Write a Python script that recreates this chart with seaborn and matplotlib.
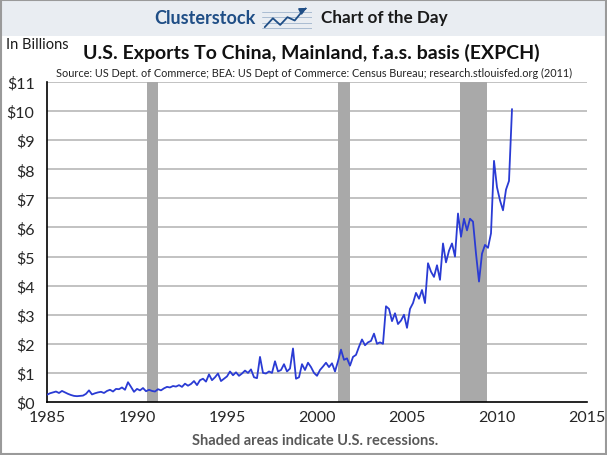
import pandas as pd
import seaborn as sns
import matplotlib.pyplot as plt
from matplotlib.patches import Rectangle

# ----------------------------- data (bi-monthly, $ billions) -----------------------------

exports = [
    0.25, 0.30, 0.33, 0.36, 0.31, 0.38,   # 1985
    0.33, 0.28, 0.24, 0.21, 0.20, 0.21,   # 1986
    0.22, 0.28, 0.40, 0.26, 0.30, 0.33,   # 1987
    0.35, 0.31, 0.38, 0.42, 0.36, 0.45,   # 1988
    0.44, 0.50, 0.42, 0.68, 0.52, 0.35,   # 1989
    0.45, 0.40, 0.48, 0.37, 0.42, 0.38,   # 1990
    0.36, 0.44, 0.40, 0.47, 0.52, 0.50,   # 1991
    0.55, 0.53, 0.58, 0.52, 0.63, 0.56,   # 1992
    0.62, 0.72, 0.58, 0.75, 0.80, 0.70,   # 1993
    0.95, 0.75, 0.85, 0.98, 0.72, 0.80,   # 1994
    0.88, 1.05, 0.92, 1.02, 0.90, 0.98,   # 1995
    1.08, 1.00, 1.12, 0.85, 0.82, 1.55,   # 1996
    1.00, 0.98, 1.05, 1.00, 1.40, 1.05,   # 1997
    1.10, 1.30, 1.05, 1.15, 1.84, 0.80,   # 1998
    0.85, 1.30, 1.10, 1.35, 1.20, 1.00,   # 1999
    0.90, 1.10, 1.22, 1.35, 1.20, 1.33,   # 2000
    1.05, 1.40, 1.80, 1.45, 1.50, 1.25,   # 2001
    1.55, 1.62, 1.90, 2.15, 1.95, 2.05,   # 2002
    2.10, 2.35, 2.00, 2.05, 2.00, 3.29,   # 2003
    3.20, 2.78, 3.05, 2.68, 2.80, 3.00,   # 2004
    2.55, 3.20, 3.40, 3.75, 3.55, 3.85,   # 2005
    3.40, 4.77, 4.48, 4.30, 4.70, 4.20,   # 2006
    5.45, 4.80, 5.20, 5.45, 5.00, 6.48,   # 2007
    5.68, 6.30, 5.90, 6.30, 6.20, 5.10,   # 2008
    4.14, 5.10, 5.40, 5.30, 5.80, 8.29,   # 2009
    7.38, 6.93, 6.59, 7.30, 7.60, 10.07,  # 2010
]
dates = pd.date_range("1985-01-01", "2010-11-01", freq="2MS")

recession_start = [1990.58, 2001.17, 2007.92]
recession_end = [1991.17, 2001.83, 2009.42]

x_ticks = [1985, 1990, 1995, 2000, 2005, 2010, 2015]
y_ticks = list(range(0, 12))

df = pd.DataFrame({"year": dates.year + (dates.month - 1) / 12, "exports": exports})

# ----------------------------------------- plot -----------------------------------------

sns.set_style("white")
plt.rcParams["font.family"] = ["Lato", "DejaVu Sans"]

fig = plt.figure(figsize=(6.07, 4.56), dpi=100)
ax = fig.add_axes([47 / 607, 1 - 403 / 456, 540 / 607, 320 / 456])

for y in y_ticks[1:]:
    ax.axhline(y, color="#bdbdbd", lw=1.3, zorder=1)
for s, e in zip(recession_start, recession_end):
    ax.axvspan(s, e, color="#a9a9a9", lw=0, zorder=2)

sns.lineplot(data=df, x="year", y="exports", ax=ax, color="#2a3bd4", lw=1.3, zorder=3)

ax.set_xlim(1985, 2015)
ax.set_ylim(0, 11)
ax.set_xticks(x_ticks)
ax.set_yticks(y_ticks)
ax.set_yticklabels(["$" + str(v) for v in y_ticks])
ax.set_xlabel("")
ax.set_ylabel("")
ax.tick_params(axis="x", direction="in", length=6, width=1.2, color="black",
               labelsize=11.5, pad=6)
ax.tick_params(axis="y", length=0, labelsize=11.5, pad=9)
sns.despine(ax=ax, top=True, right=True)
ax.spines["left"].set_color("black")
ax.spines["bottom"].set_color("black")
ax.spines["left"].set_linewidth(1.2)
ax.spines["bottom"].set_linewidth(1.2)

# --------------------------------------- header ---------------------------------------

fig.patches.append(Rectangle((0, 1 - 37 / 456), 1, 37 / 456, transform=fig.transFigure,
                             facecolor="#e9edf2", edgecolor="none", zorder=0))
fig.patches.append(Rectangle((0.002, 0.003), 0.996, 0.994, transform=fig.transFigure,
                             facecolor="none", edgecolor="#9a9a9a", lw=1.5, zorder=5))

fig.text(256 / 607, 1 - 18 / 456, "Clusterstock", ha="right", va="center",
         fontsize=13, fontweight="bold", color="#1f4e86")
fig.text(321 / 607, 1 - 18 / 456, "Chart of the Day", ha="left", va="center",
         fontsize=12.3, fontweight="bold", color="#1a1a1a")

icon = fig.add_axes([262 / 607, 1 - 32 / 456, 50 / 607, 26 / 456], zorder=3)
icon.patch.set_alpha(0)
for y in [1, 2, 3, 4]:
    icon.axhline(y, color="#9fb4cc", lw=0.6)
icon.plot([0.3, 1.2, 2.0, 2.8, 3.6, 4.6], [1.2, 2.8, 1.6, 3.0, 2.4, 4.4], color="#1f4e86", lw=1.3)
icon.annotate("", xy=(5.2, 4.9), xytext=(4.5, 4.3),
              arrowprops=dict(arrowstyle="-|>", color="#1f4e86", lw=1.2))
icon.set_xlim(0, 5.5)
icon.set_ylim(0.5, 5.2)
icon.axis("off")

fig.text(6 / 607, 1 - 45 / 456, "In Billions", ha="left", va="center",
         fontsize=10.5, color="#1a1a1a")
fig.text(311 / 607, 1 - 53 / 456, "U.S. Exports To China, Mainland, f.a.s. basis (EXPCH)",
         ha="center", va="center", fontsize=14, fontweight="bold", color="#111111")
fig.text(314 / 607, 1 - 73 / 456,
         "Source: US Dept. of Commerce; BEA: US Dept of Commerce: Census Bureau; research.stlouisfed.org (2011)",
         ha="center", va="center", fontsize=7.8, color="#222222")
fig.text(315 / 607, 1 - 441 / 456, "Shaded areas indicate U.S. recessions.",
         ha="center", va="center", fontsize=10.5, fontweight="bold", color="#595959")

plt.savefig("out.png", dpi=100)
